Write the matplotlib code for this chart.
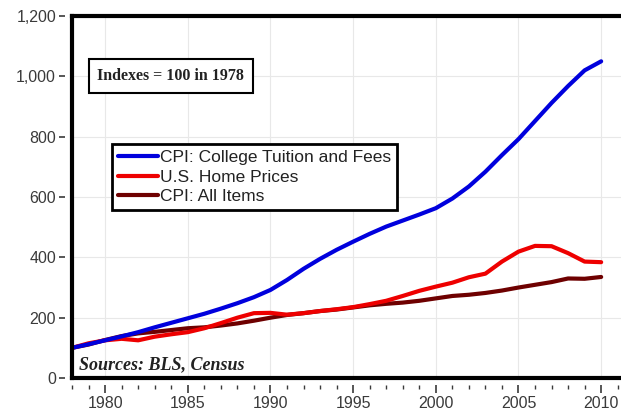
import numpy as np
import matplotlib
matplotlib.use('Agg')
import matplotlib.pyplot as plt
from matplotlib.ticker import MultipleLocator, FuncFormatter

# Index values (1978 = 100)
years = list(range(1978, 2011))
tuition = [100, 112, 125, 138, 152, 168, 183, 198, 213, 230, 248, 268, 292,
           325, 362, 395, 425, 452, 478, 502, 522, 542, 563, 595, 635, 684,
           739, 792, 852, 912, 968, 1020, 1050]
home_prices = [100, 115, 125, 130, 125, 137, 145, 152, 165, 182, 200, 215, 216,
               210, 215, 222, 228, 235, 245, 256, 272, 289, 303, 316, 334, 346,
               386, 419, 438, 437, 414, 386, 384]
cpi_all = [100, 111, 126, 139, 148, 153, 159, 165, 168, 174, 181, 190, 200,
           209, 215, 222, 227, 234, 241, 246, 250, 256, 264, 272, 276, 282,
           290, 300, 309, 318, 330, 329, 335]

labels = ['CPI: College Tuition and Fees', 'U.S. Home Prices', 'CPI: All Items']
colors = ['#0000dd', '#ee0000', '#6e0000']

plt.rcParams['font.family'] = ['Liberation Sans', 'DejaVu Sans']

fig = plt.figure(figsize=(6.21, 4.12), dpi=100)
ax = fig.add_axes([0.116, 0.0825, 0.884, 0.8785])

# draw order: CPI first, blue on top
l3, = ax.plot(years, cpi_all, color=colors[2], lw=3, solid_capstyle='round', zorder=3)
l2, = ax.plot(years, home_prices, color=colors[1], lw=3, solid_capstyle='round', zorder=4)
l1, = ax.plot(years, tuition, color=colors[0], lw=3, solid_capstyle='round', zorder=5)

ax.set_xlim(1978, 2011.2)
ax.set_ylim(0, 1200)

ax.xaxis.set_major_locator(MultipleLocator(5))
ax.xaxis.set_minor_locator(MultipleLocator(1))
ax.yaxis.set_major_locator(MultipleLocator(200))
ax.yaxis.set_major_formatter(FuncFormatter(lambda v, p: f'{int(v):,}'))

ax.grid(True, which='major', color='#e8e8e8', lw=0.8, zorder=0)

# ticks sit a little away from the thick frame
for side in ['left', 'bottom']:
    ax.spines[side].set_position(('outward', 5))
    ax.spines[side].set_visible(False)
ax.spines['right'].set_visible(False)
ax.spines['top'].set_linewidth(3)
ax.spines['top'].set_color('black')

ax.plot([0, 0], [0, 1], transform=ax.transAxes, color='black', lw=3,
        clip_on=False, zorder=10, solid_capstyle='projecting')
ax.plot([0, 1], [0, 0], transform=ax.transAxes, color='black', lw=3,
        clip_on=False, zorder=10, solid_capstyle='projecting')

ax.tick_params(axis='y', direction='out', length=4.5, width=1.2, pad=2,
               labelsize=11.5, labelcolor='#3a3a3a', color='#3a3a3a')
ax.tick_params(axis='x', which='major', direction='out', length=6, width=1.2,
               pad=2, labelsize=11.5, labelcolor='#3a3a3a', color='#3a3a3a')
ax.tick_params(axis='x', which='minor', direction='out', length=3, width=1.0,
               color='#3a3a3a')

leg = ax.legend([l1, l2, l3], labels, loc='upper left',
                bbox_to_anchor=(0.073, 0.646), borderaxespad=0,
                fontsize=12.5, handlelength=2.3, handletextpad=0.1,
                labelspacing=0.25, borderpad=0.35, fancybox=False,
                framealpha=1, edgecolor='black')
leg.get_frame().set_linewidth(2)
for h in leg.legend_handles:
    h.set_linewidth(3)
for t in leg.get_texts():
    t.set_color('#222222')

ax.text(0.180, 0.834, 'Indexes = 100 in 1978', transform=ax.transAxes,
        ha='center', va='center', fontsize=11.5, fontweight='bold',
        family=['Liberation Serif', 'DejaVu Serif'], color='#222222',
        bbox=dict(boxstyle='square,pad=0.55', facecolor='white',
                  edgecolor='black', lw=1.5), zorder=6)

ax.text(0.012, 0.036, 'Sources: BLS, Census', transform=ax.transAxes,
        ha='left', va='center', fontsize=13, fontweight='bold',
        fontstyle='italic', family=['Liberation Serif', 'DejaVu Serif'],
        color='#222222', zorder=6)

fig.savefig('out.png', dpi=100)
